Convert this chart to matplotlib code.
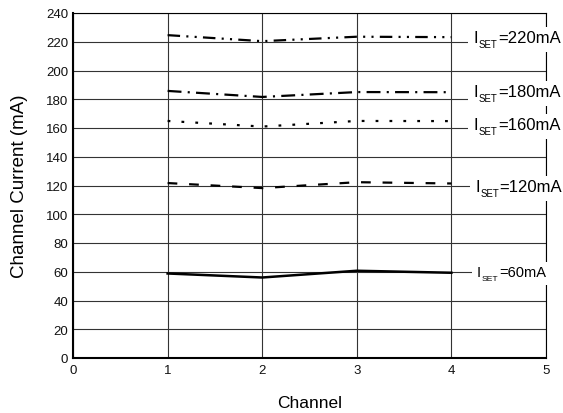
import matplotlib
matplotlib.use("Agg")
import matplotlib.pyplot as plt
from matplotlib.patches import Rectangle
from matplotlib.transforms import IdentityTransform

plt.rcParams['font.family'] = ['Liberation Sans', 'DejaVu Sans']
plt.rcParams['lines.scale_dashes'] = False

channels = [1, 2, 3, 4]
i220 = [224.6, 220.4, 223.5, 223.2]
i180 = [185.8, 181.6, 185.0, 184.9]
i160 = [164.9, 161.0, 164.9, 164.8]
i120 = [121.7, 118.2, 122.3, 121.4]
i60 = [58.8, 56.0, 60.7, 59.3]
labels = ['220mA', '180mA', '160mA', '120mA', '60mA']
yticks = list(range(0, 241, 20))
xticks = [0, 1, 2, 3, 4, 5]

W, H = 563, 414
fig = plt.figure(figsize=(W/100, H/100), dpi=100)
ax = fig.add_axes([73/W, 1-359/H, (546-73)/W, (359-14)/H])
ax.set_xlim(0, 5)
ax.set_ylim(0, 240)
ax.set_xticks(xticks)
ax.set_yticks(yticks)
ax.tick_params(length=0, labelsize=9.5, colors='#111111')
ax.tick_params(axis='x', pad=4)
ax.tick_params(axis='y', pad=3.6)
ax.grid(True, color='#333333', lw=0.8)
ax.set_axisbelow(True)
for s in ['left', 'bottom']:
    ax.spines[s].set_linewidth(1.5)
for s in ['top', 'right']:
    ax.spines[s].set_linewidth(0.8)

lw = 1.6
ax.plot(channels, i220, color='black', lw=lw, dashes=(9, 4.5, 1.5, 4.5, 1.5, 4.5), zorder=3)
ax.plot(channels, i180, color='black', lw=lw, dashes=(10, 4.5, 1.5, 4.5), zorder=3)
ax.plot(channels, i160, color='black', lw=lw, dashes=(2, 8), zorder=3)
ax.plot(channels, i120, color='black', lw=lw, dashes=(7, 8.5), zorder=3)
ax.plot(channels, i60, color='black', lw=1.8, zorder=3)

ax.set_xlabel('Channel', fontsize=12.5, labelpad=14)
ax.set_ylabel('Channel Current (mA)', fontsize=13.5, labelpad=13)

lab_pos = [(4.23, 219.5, 12), (4.23, 182, 12), (4.23, 159.5, 12), (4.25, 116.5, 12), (4.27, 57.3, 10.5)]
groups = []
for (x, y, fs), lab in zip(lab_pos, labels):
    t1 = ax.text(x, y, 'I', fontsize=fs, ha='left', va='baseline', clip_on=False, zorder=7)
    t2 = ax.annotate('SET', xy=(1, y), xycoords=(t1, 'data'), xytext=(0.6, -0.3*fs),
                     textcoords='offset points', fontsize=fs*0.58, ha='left', va='baseline',
                     annotation_clip=False, zorder=7)
    t3 = ax.annotate('=' + lab, xy=(1, y), xycoords=(t2, 'data'), xytext=(0.3, 0),
                     textcoords='offset points', fontsize=fs, ha='left', va='baseline',
                     annotation_clip=False, zorder=7)
    groups.append((t1, t2, t3))

fig.canvas.draw()
r = fig.canvas.get_renderer()
for t1, t2, t3 in groups:
    b1 = t1.get_window_extent(r)
    b2 = t2.get_window_extent(r)
    x0 = b1.x0 - 5
    y0 = b2.y0 - 3
    y1 = b1.y1 + 3
    ax.add_patch(Rectangle((x0, y0), W - x0 + 5, y1 - y0, transform=IdentityTransform(),
                           facecolor='white', edgecolor='none', zorder=5, clip_on=False))

fig.savefig('out.png', dpi=100)
